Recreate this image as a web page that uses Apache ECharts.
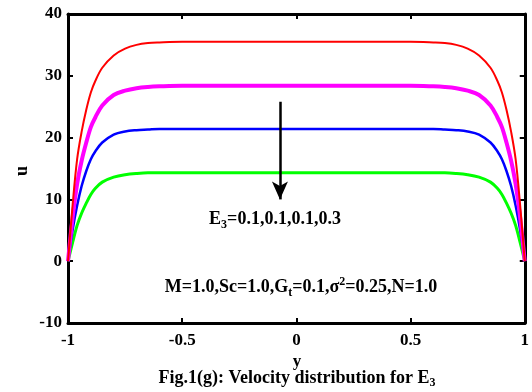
<!DOCTYPE html>
<html><head><meta charset="utf-8">
<script src="https://cdn.jsdelivr.net/npm/echarts@6/dist/echarts.min.js"></script>
<style>html,body{margin:0;padding:0;background:#fff}#c{width:532px;height:392px}</style>
</head><body><div id="c"></div>
<script>
// y positions (horizontal axis)
const xs = [-1,-0.98,-0.96,-0.94,-0.92,-0.9,-0.88,-0.85,-0.8,-0.75,-0.7,-0.65,-0.6,-0.5,-0.4,-0.3,-0.2,-0.1,0,0.1,0.2,0.3,0.4,0.5,0.6,0.65,0.7,0.75,0.8,0.85,0.88,0.9,0.92,0.94,0.96,0.98,1];
// velocity u for each curve
const uRed     = [0,9,16.5,21,24.5,27.3,29.2,31.3,33.3,34.4,35.0,35.3,35.4,35.5,35.5,35.5,35.5,35.5,35.5,35.5,35.5,35.5,35.5,35.5,35.4,35.3,35.0,34.4,33.3,31.3,29.2,27.3,24.5,21,16.5,9,0];
const uMagenta = [0,7,12.5,16.3,19.2,21.7,23.3,25.2,26.9,27.6,28.0,28.2,28.3,28.4,28.4,28.4,28.4,28.4,28.4,28.4,28.4,28.4,28.4,28.4,28.3,28.2,28.0,27.6,26.9,25.2,23.3,21.7,19.2,16.3,12.5,7,0];
const uBlue    = [0,5,9,12.2,14.6,16.5,17.8,19.2,20.5,21.0,21.2,21.3,21.4,21.4,21.4,21.4,21.4,21.4,21.4,21.4,21.4,21.4,21.4,21.4,21.4,21.3,21.2,21.0,20.5,19.2,17.8,16.5,14.6,12.2,9,5,0];
const uGreen   = [0,3,5.8,7.8,9.4,10.8,11.8,12.8,13.6,14.0,14.2,14.3,14.3,14.3,14.3,14.3,14.3,14.3,14.3,14.3,14.3,14.3,14.3,14.3,14.3,14.3,14.2,14.0,13.6,12.8,11.8,10.8,9.4,7.8,5.8,3,0];
const xTicks = [-1,-0.5,0,0.5,1];
const yTicks = [-10,0,10,20,30,40];
// arrow annotation (data space): from top to bottom
const arrowX = -0.072, arrowTop = 25.8, arrowBottom = 10.0;

const F = '"Liberation Serif","Times New Roman",serif';
const pair = a => xs.map((x,i)=>[x,a[i]]);
const chart = echarts.init(document.getElementById('c'));
const axisLine = {show:true, onZero:false, lineStyle:{color:'#000', width:3}};
const tick = {show:true, inside:true, length:5, lineStyle:{color:'#000', width:2}};
function mkLine(name, data, color, w){
  return {name, type:'line', data:pair(data), showSymbol:false, smooth:0.35,
    lineStyle:{color, width:w}, itemStyle:{color}, z:3, animation:false};
}
const series = [
  mkLine('g', uGreen, '#00ff00', 3),
  mkLine('b', uBlue, '#0000ff', 2.5),
  mkLine('m', uMagenta, '#ff00ff', 4),
  mkLine('r', uRed, '#ff0000', 2),
];
series.push({type:'line', data:[], markLine:{silent:true, animation:false, symbol:['none','arrow'], symbolSize:[12,18],
  label:{show:false}, lineStyle:{color:'#000', width:2.5, type:'solid'},
  data:[[{coord:[arrowX, arrowTop]},{coord:[arrowX, arrowBottom]}]]}});
chart.setOption({
  animation:false,
  grid:{left:68, right:5, top:14, bottom:69},
  xAxis:[{type:'value', min:-1, max:1, interval:0.5, axisLine, axisTick:tick, splitLine:{show:false},
     axisLabel:{color:'#000', fontFamily:F, fontWeight:'bold', fontSize:17, margin:9,
       formatter:v=>xTicks.includes(v)?String(v):''}},
    {type:'value', position:'top', min:-1, max:1, interval:0.5, axisLine, axisTick:tick, splitLine:{show:false}, axisLabel:{show:false}}],
  yAxis:[{type:'value', min:-10, max:40, interval:10, axisLine, axisTick:tick, splitLine:{show:false},
     axisLabel:{color:'#000', fontFamily:F, fontWeight:'bold', fontSize:17, margin:6,
       formatter:v=>yTicks.includes(v)?String(v):''}},
    {type:'value', position:'right', min:-10, max:40, interval:10, axisLine, axisTick:tick, splitLine:{show:false}, axisLabel:{show:false}}],
  series,
  graphic:[
    {type:'text', x:22, y:171, rotation:Math.PI/2, style:{text:'u', font:'bold 18px '+F, fill:'#000', align:'center', verticalAlign:'middle'}},
    {type:'text', x:297, y:362, style:{text:'y', font:'bold 17px '+F, fill:'#000', align:'center', verticalAlign:'middle'}},
    {type:'text', x:297, y:378, style:{text:'Fig.1(g): Velocity distribution for E{s|3}', fill:'#000', align:'center', verticalAlign:'middle',
      font:'bold 18px '+F, rich:{s:{font:'bold 12px '+F, padding:[9,0,0,0], fill:'#000'}}}},
    {type:'text', x:275, y:219, style:{text:'E{s|3}=0.1,0.1,0.1,0.3', fill:'#000', align:'center', verticalAlign:'middle',
      font:'bold 18px '+F, rich:{s:{font:'bold 12px '+F, padding:[11,0,0,0], fill:'#000'}}}},
    {type:'text', x:301, y:287, style:{text:'M=1.0,Sc=1.0,G{s|t}=0.1,σ{p|2}=0.25,N=1.0', fill:'#000', align:'center', verticalAlign:'middle',
      font:'bold 18px '+F, rich:{s:{font:'bold 12px '+F, padding:[11,0,0,0], fill:'#000'}, p:{font:'bold 12px '+F, padding:[0,0,11,0], fill:'#000'}}}}
  ]
});
</script></body></html>
